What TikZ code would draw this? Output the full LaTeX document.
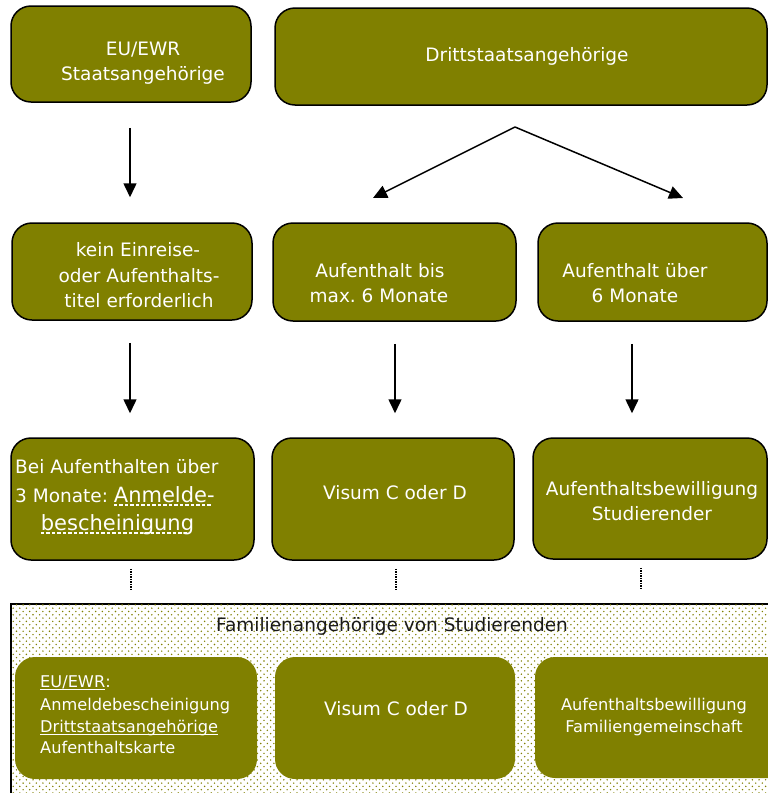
\documentclass[tikz,border=0pt]{standalone}
\usepackage{fontspec}
\setmainfont{DejaVu Sans}
\frenchspacing
\usetikzlibrary{arrows.meta,patterns}
\definecolor{olv}{HTML}{808000}
\definecolor{dotc}{HTML}{808000}
\newcommand\myul[1]{\setbox0\hbox{#1}\rlap{\rule[-2.5pt]{\wd0}{1pt}}\box0}
\newcommand\mydul[1]{\setbox0\hbox{#1}\rlap{\hbox to \wd0{\leaders\hbox to 5.5pt{\rule[-3.8pt]{3.5pt}{1.4pt}\hfil}\hfil}}\box0}
\pgfdeclarepatternformonly{mydots}{\pgfqpoint{-1pt}{-1pt}}{\pgfqpoint{5.6pt}{5.6pt}}{\pgfqpoint{6.6pt}{6.6pt}}{%
  \pgfpathcircle{\pgfqpoint{0pt}{0pt}}{0.8pt}%
  \pgfpathcircle{\pgfqpoint{3.3pt}{3.3pt}}{0.8pt}%
  \pgfusepath{fill}}
\begin{document}
\begin{tikzpicture}[x=1pt,y=-1pt,
  box/.style={draw=black, line width=1.5pt, fill=olv, rounded corners=20pt, inner sep=0pt},
  fbox/.style={fill=olv, rounded corners=20pt, inner sep=0pt},
  txt/.style={text=white, inner sep=0pt, anchor=base, font=\fontsize{18.5}{22}\selectfont},
  stxt/.style={text=white, inner sep=0pt, anchor=base west, font=\fontsize{16.2}{20}\selectfont},
  arr/.style={line width=1.5pt, -{Triangle[length=14pt,width=13pt]}},
  dotline/.style={line width=1.3pt, dash pattern=on 1.3pt off 1.2pt}]
\useasboundingbox (0,0) rectangle (768,793);
\fill[white] (0,0) rectangle (768,793);

% panel
\node[draw=black, line width=2pt, fill=white, postaction={pattern=mydots, pattern color=dotc},
      minimum width=789pt, minimum height=206pt, inner sep=0pt] (P) at (405.5,707) {};

% boxes
\node[box, minimum width=240pt, minimum height=96pt] (A) at (131,54) {};
\node[box, minimum width=492pt, minimum height=97pt] (B) at (521,56.5) {};
\node[box, minimum width=240pt, minimum height=97pt] (C) at (132,271.5) {};
\node[box, minimum width=243pt, minimum height=98pt] (D) at (394.5,272) {};
\node[box, minimum width=229pt, minimum height=98pt] (E) at (652.5,272) {};
\node[box, minimum width=243pt, minimum height=122pt] (F) at (132.5,499) {};
\node[box, minimum width=242pt, minimum height=122pt] (G) at (393,499) {};
\node[box, minimum width=234pt, minimum height=121pt] (H) at (650,498.5) {};
\node[fbox, minimum width=242pt, minimum height=122pt] (I) at (136,718) {};
\node[fbox, minimum width=240pt, minimum height=122pt] (J) at (395,718) {};
\node[fbox, minimum width=265pt, minimum height=121pt] (K) at (667.5,717.5) {};

% texts
\node[txt] (a1) at (143,55) {EU/EWR};
\node[txt] (a2) at (143,80) {Staatsangehörige};
\node[txt] (b1) at (527,61) {Drittstaatsangehörige};
\node[txt] (c1) at (138,256) {kein Einreise-};
\node[txt] (c2) at (139,282) {oder Aufenthalts-};
\node[txt] (c3) at (139,307) {titel erforderlich};
\node[txt] (d1) at (380,277) {Aufenthalt bis};
\node[txt] (d2) at (379,302) {max. 6 Monate};
\node[txt] (e1) at (635,277) {Aufenthalt über};
\node[txt] (e2) at (635,302) {6 Monate};
\node[txt, anchor=base west] (f1) at (15,473) {Bei Aufenthalten über};
\node[txt, anchor=base west] (f2) at (15,502) {3 Monate: {\fontsize{21}{25}\selectfont\mydul{Anmelde-}}};
\node[txt, font=\fontsize{21}{25}\selectfont] (f3) at (117.5,530) {\mydul{bescheinigung}};
\node[txt] (g1) at (395,499) {Visum C oder D};
\node[txt] (h1) at (652,495) {Aufenthaltsbewilligung};
\node[txt] (h2) at (652,520) {Studierender};
\node[txt, text=black!90] (p1) at (392,631) {Familienangehörige von Studierenden};
\node[stxt] (i1) at (40,687) {\myul{EU/EWR}:};
\node[stxt] (i2) at (40,710) {Anmeldebescheinigung};
\node[stxt] (i3) at (40,732) {\myul{Drittstaatsangehörige}};
\node[stxt] (i4) at (40,753) {Aufenthaltskarte};
\node[txt] (j1) at (396,715) {Visum C oder D};
\node[txt, font=\fontsize{16.2}{20}\selectfont] (k1) at (654,710) {Aufenthaltsbewilligung};
\node[txt, font=\fontsize{16.2}{20}\selectfont] (k2) at (654,732) {Familiengemeinschaft};

% connectors
\coordinate (apex) at (515,127);
\coordinate (dtip) at (373,198);
\coordinate (etip) at (683,198);
\draw[arr, shorten <=25pt, shorten >=25pt] ([xshift=-1pt]A.south) -- ([xshift=-1pt]A.south |- C.north);
\draw[arr] (apex) -- (dtip);
\draw[arr] (apex) -- (etip);
\draw[arr, shorten <=22pt, shorten >=24pt] ([xshift=-2pt]C.south) -- ([xshift=-2pt]C.south |- F.north);
\draw[arr, shorten <=22pt, shorten >=24pt] ([xshift=0.5pt]D.south) -- ([xshift=0.5pt]D.south |- G.north);
\draw[arr, shorten <=22pt, shorten >=24pt] ([xshift=-20.5pt]E.south) -- ([xshift=-20.5pt]E.south |- H.north);
\draw[dotline, shorten <=8pt, shorten >=14pt] ([xshift=-1.5pt]F.south) -- ([xshift=-1.5pt]F.south |- P.north);
\draw[dotline, shorten <=8pt, shorten >=14pt] ([xshift=3pt]G.south) -- ([xshift=3pt]G.south |- P.north);
\draw[dotline, shorten <=8pt, shorten >=14pt] ([xshift=-9pt]H.south) -- ([xshift=-9pt]H.south |- P.north);
\end{tikzpicture}
\end{document}
